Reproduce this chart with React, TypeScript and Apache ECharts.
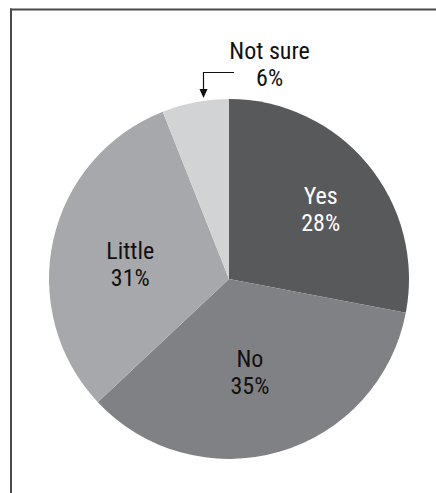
import React, { useEffect, useRef } from "react";
import * as echarts from "echarts";

const categories = ["Yes", "No", "Little", "Not sure"];
const values = [28, 35, 31, 6];
const colors = ["#58595b", "#808184", "#a7a8ab", "#d1d3d4"];
const labelColors = ["#ffffff", "#111111", "#111111", "#111111"];
// label offsets from the default inside position (px)
const labelOffsets: [number, number][] = [[20, -10], [-5, 4], [-8, 6], [58, -123]];

const FONT = '"Liberation Sans Narrow", "Roboto Condensed", "DejaVu Sans Condensed", "Liberation Sans", sans-serif';

export default function App() {
  const ref = useRef<HTMLDivElement>(null);
  useEffect(() => {
    if (!ref.current) return;
    const chart = echarts.init(ref.current, undefined, { renderer: "svg" });
    const data = categories.map((name, i) => ({
      name,
      value: values[i],
      itemStyle: { color: colors[i] },
      label: {
        color: labelColors[i],
        offset: labelOffsets[i],
      },
    }));
    chart.setOption({
      animation: false,
      backgroundColor: "#ffffff",
      graphic: [
        { type: "line", shape: { x1: 10, y1: 9.5, x2: 436, y2: 9.5 }, style: { stroke: "#4a4a4a", lineWidth: 2 } },
        { type: "line", shape: { x1: 11, y1: 8.5, x2: 11, y2: 493 }, style: { stroke: "#4a4a4a", lineWidth: 2 } },
        { type: "polyline", shape: { points: [[234, 72.5], [203.5, 72.5], [203.5, 92]] }, style: { stroke: "#111", lineWidth: 1.2, fill: null } },
        { type: "polygon", shape: { points: [[199.5, 89], [207.5, 89], [203.5, 98]] }, style: { fill: "#111" } },
      ],
      series: [
        {
          type: "pie",
          center: [229, 279],
          radius: [0, 180],
          startAngle: 90,
          clockwise: true,
          silent: true,
          itemStyle: { borderWidth: 0 },
          label: {
            show: true,
            position: "inside",
            fontFamily: FONT,
            fontSize: 24,
            lineHeight: 27,
            align: "center",
            formatter: (p: any) => `${p.name}\n${p.value}%`,
          },
          labelLine: { show: false },
          data,
        },
      ],
    });
    return () => chart.dispose();
  }, []);
  return (
    <div
      ref={ref}
      style={{ position: "absolute", left: 0, top: 0, width: 436, height: 493 }}
    />
  );
}
